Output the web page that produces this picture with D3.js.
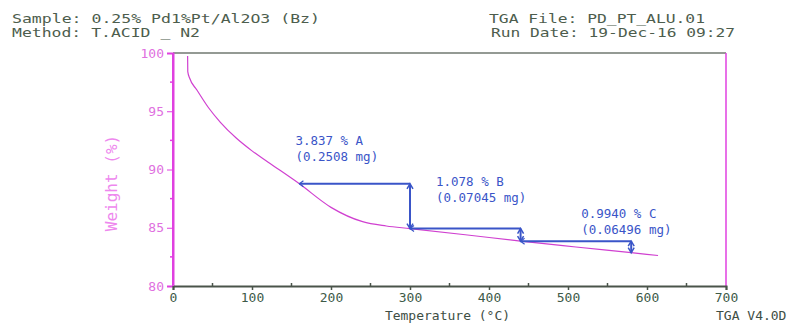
<!DOCTYPE html>
<html>
<head>
<meta charset="utf-8">
<script src="https://cdn.jsdelivr.net/npm/d3@7"></script>
<style>
  html, body { margin: 0; padding: 0; background: #fff; }
  svg { display: block; }
</style>
</head>
<body>
<div id="chart"></div>
<script>
// TGA weight loss curve, 0.25% Pd 1% Pt / Al2O3

const temps   = [18.5, 18.7, 21, 30, 45, 60, 80, 100, 120, 160, 200, 240, 270, 300, 370, 440, 510, 580, 614];
const weights = [99.74, 98.4, 97.85, 96.85, 95.3, 94.05, 92.7, 91.6, 90.65, 88.77, 86.75, 85.52, 85.15, 84.93, 84.4, 83.85, 83.35, 82.86, 82.62];

// weight-loss steps
const stepNames = ["A", "B", "C"];
const stepStart = [160, 300, 440];
const stepEnd   = [300, 440, 580];
const stepTop   = [88.77, 84.93, 83.85];
const stepPct   = ["3.837", "1.078", "0.9940"];
const stepMg    = ["0.2508", "0.07045", "0.06496"];

const xTicks = [0, 100, 200, 300, 400, 500, 600, 700];
const yTicks = [80, 85, 90, 95, 100];

const W = 802, H = 324;
const x0 = 173, x1 = 726, yTop = 53, yBot = 286;

const mono = "'DejaVu Sans Mono', 'Liberation Mono', monospace";
const pink = "#e040e0";
const curveCol = "#d040d0";
const blue = "#3a55c8";
const gray = "#4d5d4d";

const svg = d3.select("#chart").append("svg")
  .attr("width", W).attr("height", H)
  .attr("viewBox", [0, 0, W, H]);

const x = d3.scaleLinear().domain([0, 700]).range([x0, x1]);
const y = d3.scaleLinear().domain([80, 100]).range([yBot, yTop]);

// header
const header = [
  { t: "Sample: 0.25% Pd1%Pt/Al2O3 (Bz)", x: 12, y: 23, len: 308 },
  { t: "Method: T.ACID _ N2", x: 12, y: 37, len: 188 },
  { t: "TGA File: PD_PT_ALU.01", x: 489, y: 23, len: 216 },
  { t: "Run Date: 19-Dec-16 09:27", x: 491, y: 37, len: 244 }
];
svg.append("g").selectAll("text")
  .data(header)
  .join("text")
  .attr("x", d => d.x).attr("y", d => d.y)
  .attr("font-family", mono).attr("font-size", 13)
  .attr("fill", gray)
  .attr("textLength", d => d.len)
  .attr("lengthAdjust", "spacingAndGlyphs")
  .text(d => d.t);

// frame: top gray, right pink
svg.append("line")
  .attr("x1", x0).attr("x2", x1).attr("y1", yTop).attr("y2", yTop)
  .attr("stroke", "#707870").attr("stroke-width", 1.5);
svg.append("line")
  .attr("x1", x1).attr("x2", x1).attr("y1", yTop).attr("y2", yBot)
  .attr("stroke", pink).attr("stroke-width", 1.5);

// y axis (pink)
const yAxis = svg.append("g")
  .attr("transform", `translate(${x0},0)`)
  .call(d3.axisLeft(y).tickValues(yTicks).tickSize(6).tickPadding(3));
yAxis.select(".domain").attr("stroke", pink).attr("stroke-width", 2);
yAxis.selectAll(".tick line").attr("stroke", pink);
yAxis.selectAll(".tick text")
  .attr("fill", "#e070e0").attr("font-family", mono).attr("font-size", 13);
// minor y ticks
svg.append("g").selectAll("line")
  .data(d3.range(82.5, 100, 5))
  .join("line")
  .attr("x1", x0 - 3).attr("x2", x0)
  .attr("y1", d => y(d)).attr("y2", d => y(d))
  .attr("stroke", pink).attr("stroke-width", 1.5);

// x axis (gray)
const xAxis = svg.append("g")
  .attr("transform", `translate(0,${yBot})`)
  .call(d3.axisBottom(x).tickValues(xTicks).tickSize(4).tickPadding(3));
xAxis.select(".domain").attr("stroke", "#4a544a").attr("stroke-width", 2);
xAxis.selectAll(".tick line").attr("stroke", "#4a544a").attr("stroke-width", 1.5);
xAxis.selectAll(".tick text")
  .attr("fill", "#3e5a48").attr("font-family", mono).attr("font-size", 13);
// minor x ticks (above the axis)
svg.append("g").selectAll("line")
  .data(d3.range(50, 700, 100))
  .join("line")
  .attr("x1", d => x(d)).attr("x2", d => x(d))
  .attr("y1", yBot - 3).attr("y2", yBot)
  .attr("stroke", "#4a544a").attr("stroke-width", 1.5);
// the left pink axis overdraws the corner
svg.append("line")
  .attr("x1", x0).attr("x2", x0).attr("y1", yTop).attr("y2", yBot)
  .attr("stroke", pink).attr("stroke-width", 2);

// axis titles
svg.append("text")
  .attr("x", (x0 + x1) / 2 - 2).attr("y", 320)
  .attr("text-anchor", "middle")
  .attr("font-family", mono).attr("font-size", 13)
  .attr("fill", "#3e4e44")
  .text("Temperature (°C)");
svg.append("text")
  .attr("x", 716).attr("y", 320)
  .attr("font-family", mono).attr("font-size", 13)
  .attr("fill", "#3e4e44")
  .text("TGA V4.0D");
svg.append("text")
  .attr("transform", `translate(117,183) rotate(-90)`)
  .attr("text-anchor", "middle")
  .attr("font-family", mono).attr("font-size", 16)
  .attr("fill", "#ee88ee")
  .text("Weight (%)");

// curve
const pts = temps.map((t, i) => [t, weights[i]]);
svg.append("path")
  .datum(pts)
  .attr("d", d3.line().x(d => x(d[0])).y(d => y(d[1])).curve(d3.curveMonotoneX))
  .attr("fill", "none")
  .attr("stroke", curveCol)
  .attr("stroke-width", 1.2);

// step annotations
const steps = stepNames.map((n, i) => ({
  name: n, t0: stepStart[i], t1: stepEnd[i],
  top: stepTop[i], bot: stepTop[i] - (+stepPct[i]),
  pct: stepPct[i], mg: stepMg[i]
}));
const ann = svg.append("g").attr("stroke", blue).attr("fill", "none");
steps.forEach(s => {
  const yt = y(s.top), yb = y(s.bot), xs = x(s.t0), xe = x(s.t1);
  ann.append("line").attr("x1", xs).attr("x2", xe).attr("y1", yt).attr("y2", yt).attr("stroke-width", 2);
  ann.append("line").attr("x1", xe).attr("x2", xe).attr("y1", yt).attr("y2", yb).attr("stroke-width", 2);
  // arrow heads
  ann.append("path").attr("d", `M${xe - 3},${yt + 5}L${xe},${yt}L${xe + 3},${yt + 5}`).attr("stroke-width", 1.5);
  ann.append("path").attr("d", `M${xe - 3},${yb - 5}L${xe},${yb}L${xe + 3},${yb - 5}`).attr("stroke-width", 1.5);
  ann.append("path").attr("d", `M${xs + 4},${yt - 3}L${xs},${yt}L${xs + 4},${yt + 3}`).attr("stroke-width", 1.2);
});

// labels (offsets from each step, in px)
const labelOff = [[-4, -39], [26, -43], [-50, -23]];
const lab = svg.append("g")
  .attr("font-family", mono).attr("font-size", 12.5).attr("fill", blue);
steps.forEach((s, i) => {
  const lx = (i === 2 ? x(s.t1) : x(s.t0)) + labelOff[i][0];
  const ly = y(s.top) + labelOff[i][1];
  lab.append("text").attr("x", lx).attr("y", ly).text(`${s.pct} % ${s.name}`);
  lab.append("text").attr("x", lx).attr("y", ly + 16).text(`(${s.mg} mg)`);
});
</script>
</body>
</html>
